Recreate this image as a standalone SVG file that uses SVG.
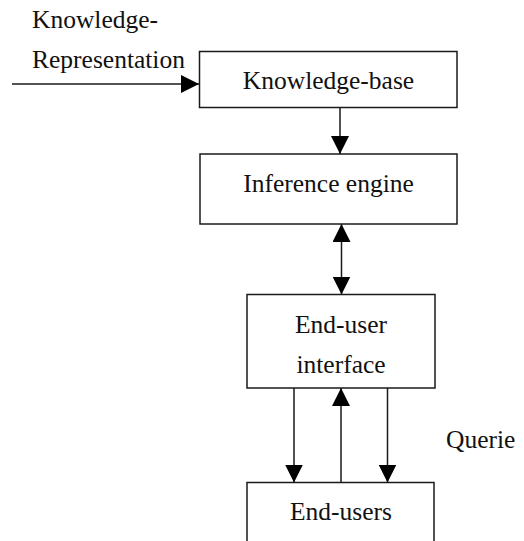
<svg xmlns="http://www.w3.org/2000/svg" width="524" height="541" viewBox="0 0 524 541">
  <style>
    .box { fill: #ffffff; stroke: #1a1a1a; stroke-width: 1.5; }
    .link { fill: none; stroke: #1a1a1a; stroke-width: 1.5; }
    .mid { text-anchor: middle; }
  </style>
  <defs>
    <marker id="head" markerUnits="userSpaceOnUse" viewBox="0 0 18 18" refX="18" refY="9" markerWidth="18" markerHeight="18" orient="auto-start-reverse">
      <path d="M0,0 L18,9 L0,18 z" fill="#000000"/>
    </marker>
  </defs>
  <rect width="524" height="541" fill="#ffffff"/>

  <g id="connectors">
    <line class="link" x1="12" y1="84" x2="199" y2="84" marker-end="url(#head)"/>
    <line class="link" x1="340" y1="107.5" x2="340" y2="154" marker-end="url(#head)"/>
    <line class="link" x1="341.5" y1="224" x2="341.5" y2="294.5" marker-start="url(#head)" marker-end="url(#head)"/>
    <line class="link" x1="294" y1="388" x2="294" y2="482.5" marker-end="url(#head)"/>
    <line class="link" x1="341" y1="482.5" x2="341" y2="388" marker-end="url(#head)"/>
    <line class="link" x1="387.5" y1="388" x2="387.5" y2="482.5" marker-end="url(#head)"/>
  </g>

  <g font-family="Liberation Serif, DejaVu Serif, serif" font-size="25.5" fill="#111111">
    <g id="input-label">
      <text x="32" y="28">Knowledge-</text>
      <text x="32" y="68">Representation</text>
    </g>

    <g id="knowledge-base">
      <rect class="box" x="199.5" y="51.5" width="257.5" height="56"/>
      <text class="mid" x="328.5" y="89">Knowledge-base</text>
    </g>

    <g id="inference-engine">
      <rect class="box" x="200" y="154" width="257" height="70"/>
      <text class="mid" x="328.5" y="192">Inference engine</text>
    </g>

    <g id="end-user-interface">
      <rect class="box" x="247" y="294.5" width="188" height="93.5"/>
      <text class="mid" x="341" y="333">End-user</text>
      <text class="mid" x="341" y="373">interface</text>
    </g>

    <g id="end-users">
      <rect class="box" x="247" y="482.5" width="187" height="70"/>
      <text class="mid" x="341" y="520">End-users</text>
    </g>

    <g id="queries-label">
      <text x="446" y="448">Querie</text>
    </g>
  </g>
</svg>
